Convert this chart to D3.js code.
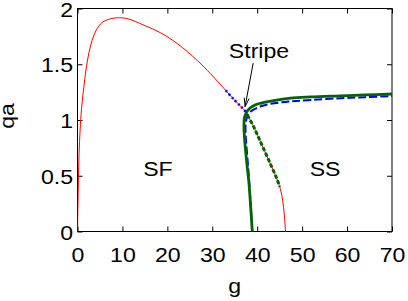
<!DOCTYPE html>
<html><head><meta charset="utf-8">
<script src="https://cdn.jsdelivr.net/npm/d3@7"></script>
<style>body{margin:0;background:#fff}svg{display:block}text{font-family:"Liberation Sans",Arial,sans-serif}</style>
</head><body>
<svg id="c" width="408" height="301"></svg>
<script>
// ---- data (g, qa) ----
const xTicks = [0,10,20,30,40,50,60,70];
const yTicks = [0,0.5,1,1.5,2];
const yTickLabels = ["0","0.5","1","1.5","2"];
const redCurve = [[0,0],[0.1,0.25],[0.2,0.46],[0.35,0.7],[0.58,0.91],[0.9,1.1],[1.6,1.36],[2.2,1.53],[3,1.68],[4.1,1.8],[5.5,1.875],[7.4,1.908],[8.9,1.917],[11,1.91],[14.8,1.85],[18.5,1.782],[22.2,1.686],[26.7,1.533],[29.6,1.415],[32.6,1.283],[34.8,1.185],[36.5,1.115],[37.4,1.075],[38.3,1.01],[39.2,0.94],[41,0.78],[43,0.6],[44.4,0.47],[45.2,0.375],[45.7,0.27],[46.0,0.16],[46.3,0]];
const blueDashed = [[38.9,0],[38.6,0.2],[38.2,0.46],[37.7,0.72],[37.45,0.85],[37.4,0.95],[37.55,1.0],[37.9,1.045],[38.5,1.075],[39.5,1.1],[41,1.125],[43,1.145],[47,1.165],[52,1.18],[58.5,1.195],[64,1.205],[70,1.215]];
const greenSolid = [[38.9,0],[38.5,0.25],[38.1,0.46],[37.8,0.57],[37.4,0.73],[37.15,0.85],[37.05,0.95],[37.15,1.02],[37.5,1.06],[38,1.09],[38.5,1.11],[39.5,1.135],[40.7,1.15],[43,1.17],[47.4,1.196],[52,1.207],[58.5,1.217],[64,1.225],[70,1.233]];
const greenOnRed = [[37.8,1.045],[39.2,0.94],[41,0.78],[43,0.6],[44.4,0.47],[45.0,0.40]];
const blueOnRed = [[33,1.265],[34.8,1.185],[36.5,1.115],[37.4,1.075]];
const labels = [{t:"SF",g:17.9,q:0.565},{t:"SS",g:55.1,q:0.565}];
const stripe = {t:"Stripe",g:40.4,q:1.628, from:[39.1,1.51], to:[37.3,1.12]};

const svg = d3.select("#c");
const x = d3.scaleLinear().domain([0,70]).range([77.5,392]);
const y = d3.scaleLinear().domain([0,2]).range([231.5,8.5]);
const FS = 21, SX = 1.1;

// ticks (inward, mirrored)
const gB = svg.append("g").attr("transform",`translate(0,${y(0)})`)
  .call(d3.axisBottom(x).tickValues(xTicks).tickSize(-5).tickSizeOuter(0).tickFormat(d3.format("d")));
const gT = svg.append("g").attr("transform",`translate(0,${y(2)})`)
  .call(d3.axisTop(x).tickValues(xTicks).tickSize(-5).tickSizeOuter(0).tickFormat(""));
const gL = svg.append("g").attr("transform",`translate(${x(0)},0)`)
  .call(d3.axisLeft(y).tickValues(yTicks).tickSize(-5).tickSizeOuter(0).tickFormat((d,i)=>yTickLabels[i]));
const gR = svg.append("g").attr("transform",`translate(${x(70)},0)`)
  .call(d3.axisRight(y).tickValues(yTicks).tickSize(-5).tickSizeOuter(0).tickFormat(""));
[gB,gT,gL,gR].forEach(g=>{g.select(".domain").remove();g.selectAll(".tick line").attr("stroke","#000");});
gB.selectAll("text").attr("y",31).attr("dy",null).attr("font-size",FS).attr("fill","#000").attr("font-family",null)
  .attr("transform",`scale(${SX},1)`);
gL.selectAll("text").attr("x",-4.5/SX).attr("dy","0.36em").attr("font-size",FS).attr("fill","#000").attr("font-family",null)
  .attr("transform",`scale(${SX},1)`);

// border
svg.append("rect").attr("x",x(0)).attr("y",y(2)).attr("width",x(70)-x(0)).attr("height",y(0)-y(2))
  .attr("fill","none").attr("stroke","#000").attr("stroke-width",1);

// curves
svg.append("clipPath").attr("id","pc").append("rect")
  .attr("x",x(0)).attr("y",y(2)).attr("width",x(70)-x(0)).attr("height",y(0)-y(2)+1);
const plot = svg.append("g").attr("clip-path","url(#pc)");
const line = d3.line().x(d=>x(d[0])).y(d=>y(d[1])).curve(d3.curveCatmullRom.alpha(0.5));
plot.append("path").datum(redCurve).attr("d",line).attr("fill","none").attr("stroke","#ff0000").attr("stroke-width",1);
plot.append("path").datum(blueDashed).attr("d",line).attr("fill","none").attr("stroke","#0000ff").attr("stroke-width",2).attr("stroke-dasharray","8,3");
plot.append("path").datum(greenSolid).attr("d",line).attr("fill","none").attr("stroke","#006400").attr("stroke-width",2.8);
plot.append("path").datum(greenOnRed).attr("d",line).attr("fill","none").attr("stroke","#006400").attr("stroke-width",3).attr("stroke-dasharray","4,2");
plot.append("path").datum(blueOnRed).attr("d",line).attr("fill","none").attr("stroke","#0000ff").attr("stroke-width",2.5).attr("stroke-dasharray","2,2.5");

// text labels
function stext(t,px,py,anchor){
  return svg.append("text").attr("transform",`translate(${px},${py}) scale(${SX},1)`)
    .attr("text-anchor",anchor).attr("font-size",FS).attr("fill","#000").text(t);
}
labels.forEach(l=>stext(l.t,x(l.g),y(l.q)+7.5,"middle"));
stext(stripe.t,x(stripe.g),y(stripe.q)+8,"middle");

// arrow
const ax1=x(stripe.from[0]), ay1=y(stripe.from[1]), ax2=x(stripe.to[0]), ay2=y(stripe.to[1]);
svg.append("line").attr("x1",ax1).attr("y1",ay1).attr("x2",ax2).attr("y2",ay2).attr("stroke","#000").attr("stroke-width",1);
const ang=Math.atan2(ay2-ay1,ax2-ax1), L=9, W=0.28;
svg.append("path").attr("d",`M${ax2-L*Math.cos(ang-W)},${ay2-L*Math.sin(ang-W)}L${ax2},${ay2}L${ax2-L*Math.cos(ang+W)},${ay2-L*Math.sin(ang+W)}`)
  .attr("fill","none").attr("stroke","#000").attr("stroke-width",1);

// axis titles
stext("g",(x(0)+x(70))/2,293,"middle");
svg.append("text").attr("transform",`translate(14,116) rotate(-90) scale(${SX},1)`).attr("text-anchor","middle")
  .attr("font-size",FS).attr("fill","#000").text("qa");
</script>
</body></html>
